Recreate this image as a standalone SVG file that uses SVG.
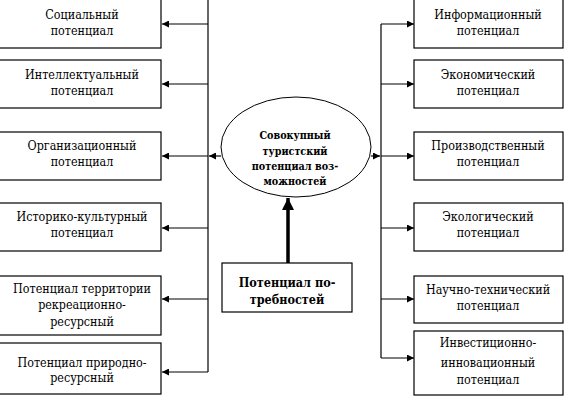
<svg xmlns="http://www.w3.org/2000/svg" width="568" height="401" viewBox="0 0 568 401">
<style>
.box{fill:#fff;stroke:#000;stroke-width:1.2}
text{font-family:'DejaVu Serif Condensed','DejaVu Serif',serif;font-stretch:condensed;text-anchor:middle;fill:#000}
.t{font-size:12.4px}
.e{font-size:10.7px;font-weight:bold}
.b{font-size:12.5px;font-weight:bold}
.ln{fill:none;stroke:#000;stroke-width:1.2}
</style>
<defs>
<marker id="ah" viewBox="0 0 10 10" refX="10" refY="5" markerWidth="8" markerHeight="7" markerUnits="userSpaceOnUse" orient="auto"><path d="M0,0 L10,5 L0,10 z" fill="#000"/></marker>
<marker id="big" viewBox="0 0 10 10" refX="10" refY="5" markerWidth="14" markerHeight="12" markerUnits="userSpaceOnUse" orient="auto"><path d="M0,0 L10,5 L0,10 z" fill="#000"/></marker>
</defs>
<rect width="568" height="401" fill="#fff"/>
<g id="connectors">
<path class="ln" d="M208,0 V372"/>
<path class="ln" d="M208,24 H162" marker-end="url(#ah)"/>
<path class="ln" d="M208,84 H162" marker-end="url(#ah)"/>
<path class="ln" d="M208,156 H162" marker-end="url(#ah)"/>
<path class="ln" d="M208,228 H162" marker-end="url(#ah)"/>
<path class="ln" d="M208,299 H162" marker-end="url(#ah)"/>
<path class="ln" d="M208,372 H162" marker-end="url(#ah)"/>
<path class="ln" d="M221,156 H209" marker-end="url(#ah)"/>
<path class="ln" d="M371,156 H380" marker-end="url(#ah)"/>
<path class="ln" d="M381,24 V358"/>
<path class="ln" d="M381,24 H414" marker-end="url(#ah)"/>
<path class="ln" d="M381,84 H414" marker-end="url(#ah)"/>
<path class="ln" d="M381,156 H414" marker-end="url(#ah)"/>
<path class="ln" d="M381,228 H414" marker-end="url(#ah)"/>
<path class="ln" d="M381,299 H414" marker-end="url(#ah)"/>
<path class="ln" d="M381,358 H414" marker-end="url(#ah)"/>
<path d="M288,263 V198" fill="none" stroke="#000" stroke-width="3.5" marker-end="url(#big)"/>
</g>
<g id="n-social"><rect class="box" x="-2" y="-2" width="163" height="50"/><text class="t" x="82" y="19">Социальный</text><text class="t" x="82" y="35">потенциал</text></g>
<g id="n-intel"><rect class="box" x="-2" y="60" width="163" height="48"/><text class="t" x="82" y="79">Интеллектуальный</text><text class="t" x="82" y="95">потенциал</text></g>
<g id="n-org"><rect class="box" x="-2" y="132" width="163" height="48"/><text class="t" x="82" y="150">Организационный</text><text class="t" x="82" y="166">потенциал</text></g>
<g id="n-hist"><rect class="box" x="-2" y="203" width="163" height="48"/><text class="t" x="82" y="221">Историко-культурный</text><text class="t" x="82" y="237">потенциал</text></g>
<g id="n-terr"><rect class="box" x="-2" y="276" width="163" height="59"/><text class="t" x="82" y="293">Потенциал  территории</text><text class="t" x="82" y="309">рекреационно-</text><text class="t" x="82" y="326">ресурсный</text></g>
<g id="n-nat"><rect class="box" x="-2" y="343" width="163" height="51"/><text class="t" x="82" y="367">Потенциал природно-</text><text class="t" x="82" y="382">ресурсный</text></g>
<g id="n-info"><rect class="box" x="414" y="-2" width="149" height="50"/><text class="t" x="488" y="19">Информационный</text><text class="t" x="488" y="35">потенциал</text></g>
<g id="n-econ"><rect class="box" x="414" y="60" width="149" height="48"/><text class="t" x="488" y="79">Экономический</text><text class="t" x="488" y="95">потенциал</text></g>
<g id="n-prod"><rect class="box" x="414" y="132" width="149" height="48"/><text class="t" x="488" y="150">Производственный</text><text class="t" x="488" y="166">потенциал</text></g>
<g id="n-eco"><rect class="box" x="414" y="203" width="149" height="48"/><text class="t" x="488" y="221">Экологический</text><text class="t" x="488" y="237">потенциал</text></g>
<g id="n-sci"><rect class="box" x="414" y="276" width="149" height="47"/><text class="t" x="488" y="294">Научно-технический</text><text class="t" x="488" y="310">потенциал</text></g>
<g id="n-inv"><rect class="box" x="414" y="331" width="149" height="64"/><text class="t" x="488" y="347">Инвестиционно-</text><text class="t" x="488" y="367">инновационный</text><text class="t" x="488" y="384">потенциал</text></g>
<g id="n-center"><ellipse cx="296" cy="147" rx="75" ry="50" fill="#fff" stroke="#000" stroke-width="1"/><text class="e" x="295" y="139">Совокупный</text><text class="e" x="295" y="155">туристский</text><text class="e" x="295" y="170">потенциал воз-</text><text class="e" x="295" y="185">можностей</text></g>
<g id="n-need"><rect class="box" x="222" y="263" width="130" height="49"/><text class="b" x="287" y="287">Потенциал по-</text><text class="b" x="287" y="304">требностей</text></g>
</svg>
